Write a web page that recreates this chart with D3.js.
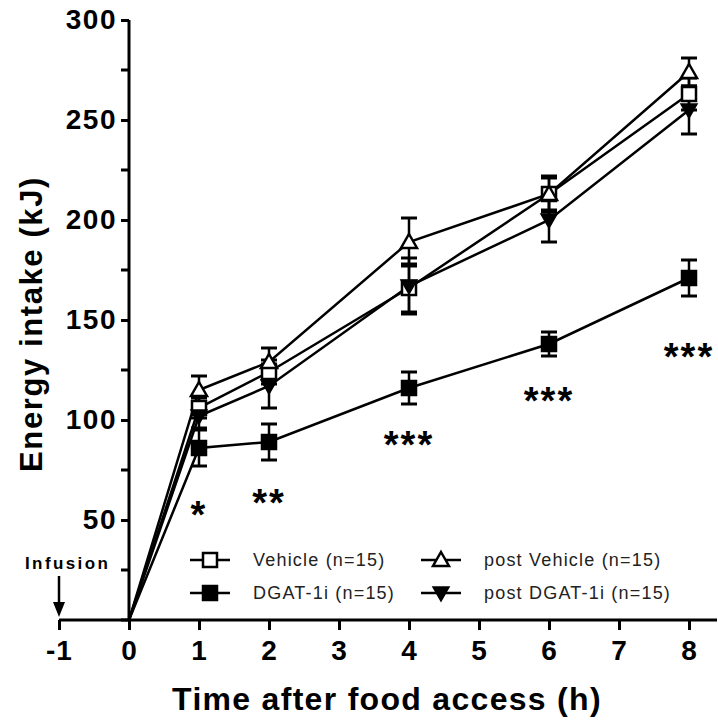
<!DOCTYPE html>
<html>
<head>
<meta charset="utf-8">
<script src="https://cdn.jsdelivr.net/npm/d3@7"></script>
<style>
    body { margin: 0; background: #fff; }
    svg { display: block; font-family: "Liberation Sans", Arial, sans-serif; }
</style>
</head>
<body>
<svg id="chart"></svg>
<script>
// data
const times = [0, 1, 2, 4, 6, 8];
const vehicle = [0, 106, 124, 166, 213, 263];
const vehicleErr = [0, 5, 6, 12, 8, 8];
const postVehicle = [0, 115, 129, 189, 213, 274];
const postVehicleErr = [0, 7, 7, 12, 9, 7];
const dgat = [0, 86, 89, 116, 138, 171];
const dgatErr = [0, 9, 9, 8, 6, 9];
const postDgat = [0, 102, 117, 167, 200, 255];
const postDgatErr = [0, 6, 11, 14, 11, 12];

const sigTimes = [1, 2, 4, 6, 8];
const sigLabels = ["*", "**", "***", "***", "***"];
const sigValues = [46, 52, 81, 103, 125];

const xTicks = [-1, 0, 1, 2, 3, 4, 5, 6, 7, 8];
const yTicks = [50, 100, 150, 200, 250, 300];
const yMinorTicks = [0, 25, 75, 125, 175, 225, 275];

const seriesNames = ["Vehicle (n=15)", "DGAT-1i (n=15)", "post Vehicle (n=15)", "post DGAT-1i (n=15)"];
const seriesSymbols = ["square-open", "square", "triangle-open", "triangle-down"];

const width = 718;
const height = 720;

const svg = d3.select("#chart")
    .attr("width", width)
    .attr("height", height);

const x = d3.scaleLinear().domain([-1, 8]).range([59, 689]);
const y = d3.scaleLinear().domain([0, 300]).range([620, 20]);

const series = [
    {name: seriesNames[0], sym: seriesSymbols[0], v: vehicle, e: vehicleErr},
    {name: seriesNames[1], sym: seriesSymbols[1], v: dgat, e: dgatErr},
    {name: seriesNames[2], sym: seriesSymbols[2], v: postVehicle, e: postVehicleErr},
    {name: seriesNames[3], sym: seriesSymbols[3], v: postDgat, e: postDgatErr}
];

function drawSymbol(g, sym, cx, cy) {
    if (sym.startsWith("square")) {
        g.append("rect")
            .attr("x", cx - 7).attr("y", cy - 7)
            .attr("width", 14).attr("height", 14)
            .attr("fill", sym === "square" ? "#000" : "#fff")
            .attr("stroke", "#000").attr("stroke-width", 2.5);
    } else if (sym === "triangle-open") {
        g.append("path")
            .attr("d", `M${cx},${cy - 8}L${cx + 8},${cy + 6}L${cx - 8},${cy + 6}Z`)
            .attr("fill", "#fff").attr("stroke", "#000").attr("stroke-width", 2.5)
            .attr("stroke-linejoin", "miter");
    } else {
        g.append("path")
            .attr("d", `M${cx - 8},${cy - 6}L${cx + 8},${cy - 6}L${cx},${cy + 8}Z`)
            .attr("fill", "#000").attr("stroke", "#000").attr("stroke-width", 1.5);
    }
}

// error bars
const errG = svg.append("g");
series.forEach(s => {
    times.forEach((t, i) => {
        if (!s.e[i]) return;
        const cx = x(t);
        const y0 = y(s.v[i] - s.e[i]);
        const y1 = y(s.v[i] + s.e[i]);
        errG.append("line").attr("x1", cx).attr("x2", cx).attr("y1", y0).attr("y2", y1)
            .attr("stroke", "#000").attr("stroke-width", 2.5);
        [y0, y1].forEach(yy => errG.append("line")
            .attr("x1", cx - 8).attr("x2", cx + 8).attr("y1", yy).attr("y2", yy)
            .attr("stroke", "#000").attr("stroke-width", 3));
    });
});

// lines
const line = d3.line().x((d, i) => x(times[i])).y(d => y(d));
svg.append("g")
    .selectAll("path")
    .data(series)
    .join("path")
    .attr("d", d => line(d.v))
    .attr("fill", "none")
    .attr("stroke", "#000")
    .attr("stroke-width", 2.5);

// markers
const markG = svg.append("g");
series.forEach(s => {
    times.forEach((t, i) => {
        if (t === 0) return;
        drawSymbol(markG, s.sym, x(t), y(s.v[i]));
    });
});

// axes
const xAxis = svg.append("g")
    .attr("transform", `translate(0,${y(0)})`)
    .call(d3.axisBottom(x).tickValues(xTicks).tickSize(10).tickPadding(10).tickFormat(d => String(d)));
xAxis.select(".domain").attr("d", `M${x(-1)},0H717`).attr("stroke-width", 3);
xAxis.selectAll(".tick line").attr("stroke-width", 3);
xAxis.selectAll(".tick text")
    .style("font-size", "28px").style("font-weight", "bold")
    .style("letter-spacing", "1px").attr("fill", "#000");

const yAxis = svg.append("g")
    .attr("transform", `translate(${x(0)},0)`)
    .call(d3.axisLeft(y).tickValues(yTicks).tickSize(8).tickPadding(4));
yAxis.select(".domain").attr("d", `M0,${y(300)}V${y(0)}`).attr("stroke-width", 3);
yAxis.selectAll(".tick line").attr("stroke-width", 3);
yAxis.selectAll(".tick text")
    .style("font-size", "28px").style("font-weight", "bold")
    .style("letter-spacing", "1.5px").attr("fill", "#000");

yAxis.append("g")
    .selectAll("line")
    .data(yMinorTicks)
    .join("line")
    .attr("x1", -8).attr("x2", 0)
    .attr("y1", d => y(d)).attr("y2", d => y(d))
    .attr("stroke", "#000").attr("stroke-width", 3);

// axis titles
svg.append("text")
    .attr("x", 387)
    .attr("y", 710)
    .attr("text-anchor", "middle")
    .style("font-size", "32px")
    .style("font-weight", "bold")
    .style("letter-spacing", "1.3px")
    .text("Time after food access (h)");

svg.append("text")
    .attr("transform", `translate(42,324) rotate(-90)`)
    .attr("text-anchor", "middle")
    .style("font-size", "31px")
    .style("font-weight", "bold")
    .style("letter-spacing", "1.6px")
    .text("Energy intake (kJ)");

// significance stars
svg.append("g")
    .selectAll("text")
    .data(sigTimes)
    .join("text")
    .attr("x", d => x(d))
    .attr("y", (d, i) => y(sigValues[i]))
    .attr("text-anchor", "middle")
    .style("font-size", "38px")
    .style("font-weight", "bold")
    .style("letter-spacing", "2px")
    .text((d, i) => sigLabels[i]);

// infusion marker
svg.append("text")
    .attr("x", 25)
    .attr("y", 569)
    .style("font-size", "17px")
    .style("font-weight", "bold")
    .style("letter-spacing", "2.4px")
    .text("Infusion");
svg.append("line")
    .attr("x1", x(-1)).attr("x2", x(-1))
    .attr("y1", 576).attr("y2", 604)
    .attr("stroke", "#000").attr("stroke-width", 2.5);
svg.append("path")
    .attr("d", `M${x(-1) - 6},602L${x(-1) + 6},602L${x(-1)},617Z`)
    .attr("fill", "#000");

// legend
const legend = svg.append("g").attr("class", "legend");
const legendPos = [[210, 560], [210, 593], [441, 560], [441, 593]];
series.forEach((s, i) => {
    const [lx, ly] = legendPos[i];
    const g = legend.append("g");
    g.append("line")
        .attr("x1", lx - 20).attr("x2", lx + 20).attr("y1", ly).attr("y2", ly)
        .attr("stroke", "#000").attr("stroke-width", 2.5);
    drawSymbol(g, s.sym, lx, ly);
    g.append("text")
        .attr("x", lx + 43)
        .attr("y", ly + 6)
        .style("font-size", "18px")
        .style("letter-spacing", "1.2px")
        .attr("fill", "#222")
        .text(s.name);
});
</script>
</body>
</html>
